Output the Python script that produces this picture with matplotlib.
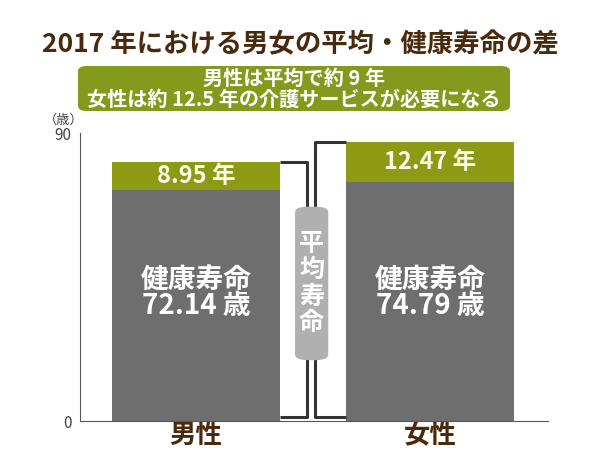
import matplotlib
matplotlib.use('Agg')
import matplotlib.pyplot as plt
from matplotlib.patches import FancyBboxPatch

plt.rcParams['font.family'] = ['Noto Sans CJK JP', 'DejaVu Sans']

# データ
categories = ['男性', '女性']
healthy = [72.14, 74.79]      # 健康寿命
gap = [8.95, 12.47]           # 平均寿命との差
gap_labels = ['8.95 年', '12.47 年']
healthy_labels = ['健康寿命\n72.14 歳', '健康寿命\n74.79 歳']
yticks = [0, 90]

GRAY = '#6e6e6e'
GREEN = '#8c9a14'
BROWN = '#4a2a0c'

fig = plt.figure(figsize=(6, 4.5), dpi=100)
ax = fig.add_axes([80 / 600, 1 - 421 / 450, 468 / 600, 288 / 450])

x = [0, 1]
w = 0.718
ax.bar(x, healthy, width=w, color=GRAY, zorder=2)
ax.bar(x, gap, width=w, bottom=healthy, color=GREEN, zorder=2)

for i in x:
    ax.text(i, healthy[i] + gap[i] / 2, gap_labels[i], ha='center', va='center',
            color='#fafae8', fontsize=17, fontweight='bold', zorder=3)
    ax.text(i, 40, healthy_labels[i], ha='center', va='center', color='white',
            fontsize=20, fontweight='bold', linespacing=0.92, zorder=3)

# 平均寿命の括弧
lc = '#333333'
m_top = healthy[0] + gap[0]
f_top = healthy[1] + gap[1]
ax.plot([w / 2, 0.474, 0.474, w / 2], [m_top, m_top, 1.2, 1.2],
        color=lc, lw=2.2, solid_capstyle='butt', zorder=3, clip_on=False)
ax.plot([1 - w / 2, 0.509, 0.509, 1 - w / 2], [f_top, f_top, 1.2, 1.2],
        color=lc, lw=2.2, solid_capstyle='butt', zorder=3, clip_on=False)

box = FancyBboxPatch((0.423, 19.0), 0.142, 48.0,
                     boxstyle='round,pad=0,rounding_size=0.06',
                     mutation_aspect=28, facecolor='#b0b0b0', edgecolor='none', zorder=4)
ax.add_patch(box)
ax.text(0.494, 43.0, '平\n均\n寿\n命', ha='center', va='center', color='white',
        fontsize=18, fontweight='bold', linespacing=1.12, zorder=5)

ax.set_xlim(-0.496, 1.504)
ax.set_ylim(0, 90)
ax.set_yticks(yticks)
ax.tick_params(axis='y', length=0, labelsize=11, labelcolor='#444444', pad=6)
ax.set_xticks(x)
ax.set_xticklabels(categories, fontsize=19, fontweight='bold', color=BROWN)
ax.tick_params(axis='x', length=0, pad=1)
for s in ['top', 'right']:
    ax.spines[s].set_visible(False)
ax.spines['left'].set_color('#555555')
ax.spines['bottom'].set_color('#555555')

fig.text(64 / 600, 1 - 120 / 450, '（歳）', ha='center', va='center',
         fontsize=9.5, color='#444444')

# タイトル
fig.text(0.5, 1 - 45 / 450, '2017 年における男女の平均・健康寿命の差', ha='center',
         va='center', fontsize=19, fontweight='bold', color=BROWN)

# 緑のボックス
gbox = FancyBboxPatch((78 / 600, 1 - 111 / 450), 432 / 600, 45 / 450,
                      boxstyle='round,pad=0,rounding_size=0.015',
                      mutation_aspect=0.75, transform=fig.transFigure,
                      facecolor='#849a1c', edgecolor='none')
fig.patches.append(gbox)
fig.text(294 / 600, 1 - 78 / 450, '男性は平均で約 9 年', ha='center', va='center',
         fontsize=14.5, fontweight='bold', color='white')
fig.text(294 / 600, 1 - 99 / 450, '女性は約 12.5 年の介護サービスが必要になる',
         ha='center', va='center', fontsize=14.5, fontweight='bold', color='white')

fig.savefig('out.png', dpi=100)
